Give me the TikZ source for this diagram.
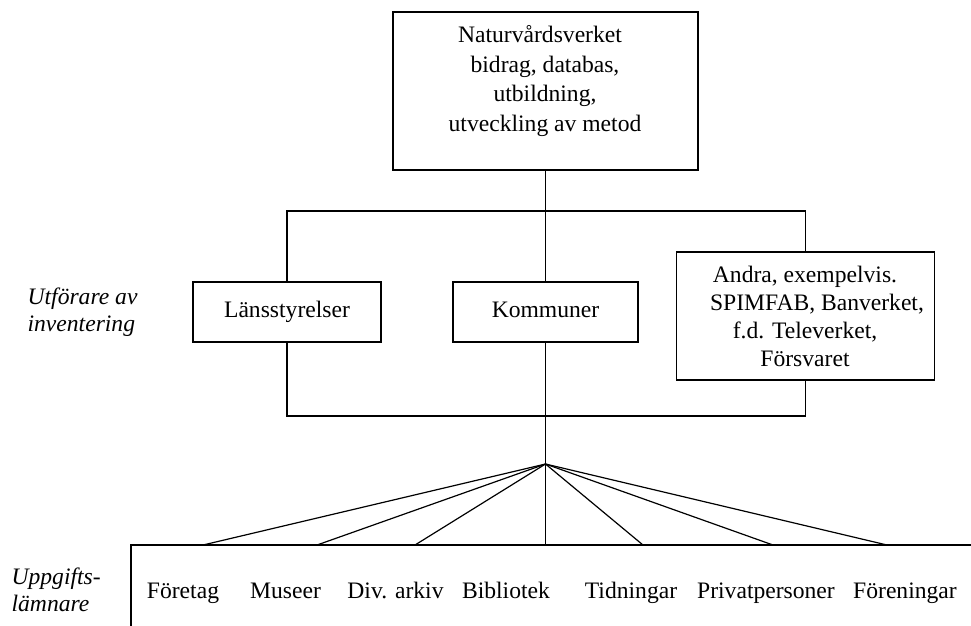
\documentclass[tikz,border=0pt]{standalone}
\usepackage{fontspec}
\setmainfont{Liberation Serif}
\begin{document}
\begin{tikzpicture}[x=1pt,y=-1pt,line width=1.2pt,
  box/.style={draw,rectangle,inner sep=0pt,font=\fontsize{23.6}{28}\selectfont,text height=16pt,text depth=5pt},
  txt/.style={inner sep=0pt,font=\fontsize{23.6}{28}\selectfont},
  side/.style={inner sep=0pt,align=left,font=\fontsize{23.6}{27.5}\selectfont\itshape}]
\useasboundingbox (0,0) rectangle (971,625);
% boxes
\node[draw,rectangle,inner sep=0pt,minimum width=305pt,minimum height=158pt] (nv) at (545.5,91) {};
\node[txt,align=center,anchor=north,font=\fontsize{23.6}{29.5}\selectfont] (nvt) at (545,25)
  {Naturvårdsverket\hspace*{10pt}\\bidrag, databas,\\utbildning,\\utveckling av metod};
\node[box,minimum width=188pt,minimum height=60pt] (lans) at (287,312) {Länsstyrelser};
\node[box,minimum width=185pt,minimum height=60pt] (komm) at (545.5,312) {Kommuner};
\node[draw,rectangle,inner sep=0pt,minimum width=258pt,minimum height=128pt] (andra) at (805.5,316) {};
\node[txt,align=center,anchor=north] (andrat) at (805,266)
  {Andra, exempelvis.\\\hspace*{24pt}SPIMFAB, Banverket,\\f.d. Televerket,\\Försvaret};
% side labels
\node[side,anchor=west] (utf) at (27,312) {Utförare av\\inventering};
\node[side,anchor=west] (upp) at (11,590) {Uppgifts-\\lämnare};
% connectors
\coordinate (tb) at (545.5,211);
\coordinate (bb) at (545.5,416);
\draw (nv.south) -- (komm.north);
\draw (lans.north) |- (tb) -| (andra.north);
\draw (lans.south) |- (bb) -| (andra.south);
% bottom box
\coordinate (ubl) at (131,626);
\coordinate (utl) at (131,545);
\coordinate (utr) at (972,545);
\draw (ubl) -- (utl) -- (utr);
\coordinate (fan) at (545.5,464);
\coordinate (b1) at (203,545);
\coordinate (b2) at (317,545);
\coordinate (b3) at (415,545);
\coordinate (b4) at (545.5,545);
\coordinate (b5) at (643,545);
\coordinate (b6) at (773,545);
\coordinate (b7) at (887,545);
\draw (komm.south) -- (b4);
\foreach \i in {1,2,3,5,6,7} \draw (fan) -- (b\i);
% bottom labels
\node[txt,anchor=base] (l1) at (183,598) {Företag};
\node[txt,anchor=base] (l2) at (285.5,598) {Museer};
\node[txt,anchor=base] (l3) at (395.5,598) {Div. arkiv};
\node[txt,anchor=base] (l4) at (506,598) {Bibliotek};
\node[txt,anchor=base] (l5) at (631,598) {Tidningar};
\node[txt,anchor=base] (l6) at (766,598) {Privatpersoner};
\node[txt,anchor=base] (l7) at (905,598) {Föreningar};
\end{tikzpicture}
\end{document}
